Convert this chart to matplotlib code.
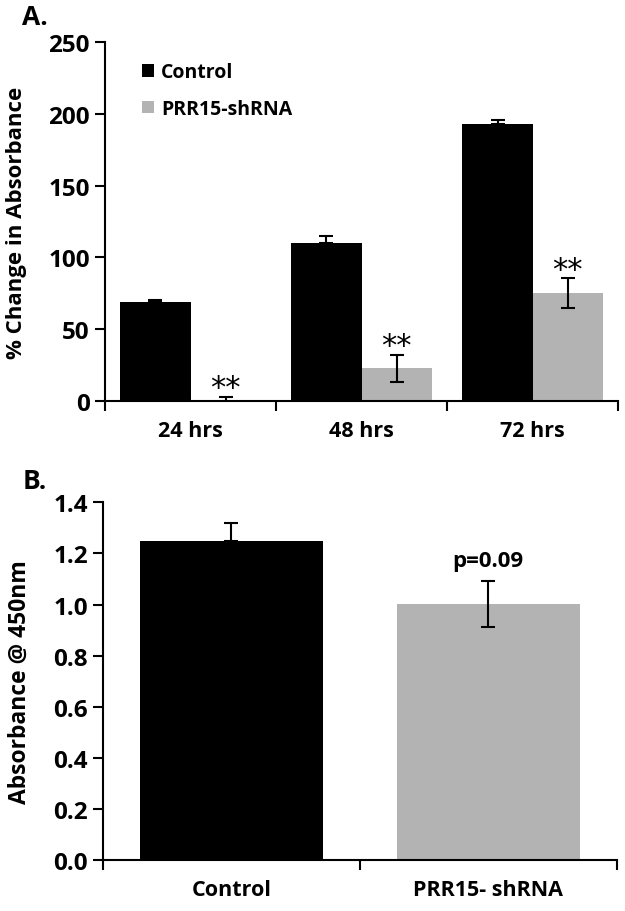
import matplotlib
matplotlib.use("Agg")
import matplotlib.pyplot as plt
from matplotlib.patches import Patch
import numpy as np

plt.rcParams['font.family'] = ['Open Sans', 'DejaVu Sans']
plt.rcParams['font.weight'] = 'bold'
plt.rcParams['axes.labelweight'] = 'bold'

# Panel A data
timepoints = ["24 hrs", "48 hrs", "72 hrs"]
control_a = [69, 110, 193]
control_a_err = [1.5, 5, 3]
shrna_a = [0.5, 22.7, 75]
shrna_a_err = [2.5, 9.6, 10.5]
sig_a = ["**", "**", "**"]

# Panel B data
groups_b = ["Control", "PRR15- shRNA"]
values_b = [1.25, 1.003]
errs_b = [0.07, 0.089]
pval_text = "p=0.09"

BLACK = "#000000"
GRAY = "#b3b3b3"

fig = plt.figure(figsize=(6.25, 9.12), dpi=100)

def style_axes(ax):
    ax.spines['top'].set_visible(False)
    ax.spines['right'].set_visible(False)
    for s in ['left', 'bottom']:
        ax.spines[s].set_linewidth(1.5)
    ax.tick_params(axis='y', which='major', length=7, width=1.5, labelsize=17.5, pad=4)
    ax.tick_params(axis='x', which='major', length=7, width=1.5, labelbottom=False)
    ax.tick_params(axis='x', which='minor', length=0, labelsize=15.5, pad=14)
    for lab in ax.get_yticklabels() + ax.get_xticklabels(minor=True):
        lab.set_fontweight('bold')

# ---- Panel A ----
axA = fig.add_axes([0.168, 0.5592, 0.821, 0.3937])
x = np.arange(len(timepoints)) + 0.5
w = 0.41
axA.bar(x - w/2, control_a, width=w, color=BLACK, label="Control",
        yerr=[np.zeros(3), control_a_err], capsize=5,
        error_kw=dict(elinewidth=1.5, capthick=1.5, ecolor='black'))
axA.bar(x + w/2, shrna_a, width=w, color=GRAY, label="PRR15-shRNA",
        yerr=shrna_a_err, capsize=5,
        error_kw=dict(elinewidth=1.5, capthick=1.5, ecolor='black'))
for xi, v, e, s in zip(x + w/2, shrna_a, shrna_a_err, sig_a):
    axA.text(xi, v + e - 4, s, ha='center', va='bottom', fontsize=22,
             fontweight='normal', family='DejaVu Sans')
axA.set_xlim(0, 3)
axA.set_ylim(0, 250)
axA.set_yticks([0, 50, 100, 150, 200, 250])
axA.set_xticks([0, 1, 2, 3])
axA.set_xticks(x, minor=True)
axA.set_xticklabels(timepoints, minor=True)
axA.set_ylabel("% Change in Absorbance", fontsize=16)
axA.yaxis.set_label_coords(-0.152, 0.5)
style_axes(axA)
handles = [Patch(facecolor=BLACK, edgecolor='none', label="Control"),
           Patch(facecolor=GRAY, edgecolor='none', label="PRR15-shRNA")]
leg = axA.legend(handles=handles, loc='upper left', bbox_to_anchor=(0.072, 0.944),
           frameon=False, fontsize=14, handlelength=0.62, handleheight=0.62,
           handletextpad=0.35, labelspacing=0.86, borderpad=0, borderaxespad=0)
for t in leg.get_texts():
    t.set_fontweight('bold')
fig.text(0.036, 0.981, "A.", fontsize=19, fontweight='bold', va='center')

# ---- Panel B ----
axB = fig.add_axes([0.1648, 0.0559, 0.822, 0.3922])
xb = np.arange(len(groups_b)) + 0.5
wb = 0.712
axB.bar(xb[0], values_b[0], width=wb, color=BLACK,
        yerr=[[0], [errs_b[0]]], capsize=5,
        error_kw=dict(elinewidth=1.5, capthick=1.5, ecolor='black'))
axB.bar(xb[1], values_b[1], width=wb, color=GRAY,
        yerr=[[errs_b[1]], [errs_b[1]]], capsize=5,
        error_kw=dict(elinewidth=1.5, capthick=1.5, ecolor='black'))
axB.text(xb[1], values_b[1] + errs_b[1] + 0.04, pval_text, ha='center',
         va='bottom', fontsize=16, fontweight='bold')
axB.set_xlim(0, 2)
axB.set_ylim(0, 1.4)
axB.set_yticks(np.arange(0, 1.41, 0.2))
axB.set_yticklabels([f"{v:.1f}" for v in np.arange(0, 1.41, 0.2)])
axB.set_xticks([0, 1, 2])
axB.set_xticks(xb, minor=True)
axB.set_xticklabels(groups_b, minor=True)
axB.set_ylabel("Absorbance @ 450nm", fontsize=16.5)
axB.yaxis.set_label_coords(-0.138, 0.5)
style_axes(axB)
fig.text(0.036, 0.4715, "B.", fontsize=19, fontweight='bold', va='center')

fig.savefig("out.png", dpi=100)
